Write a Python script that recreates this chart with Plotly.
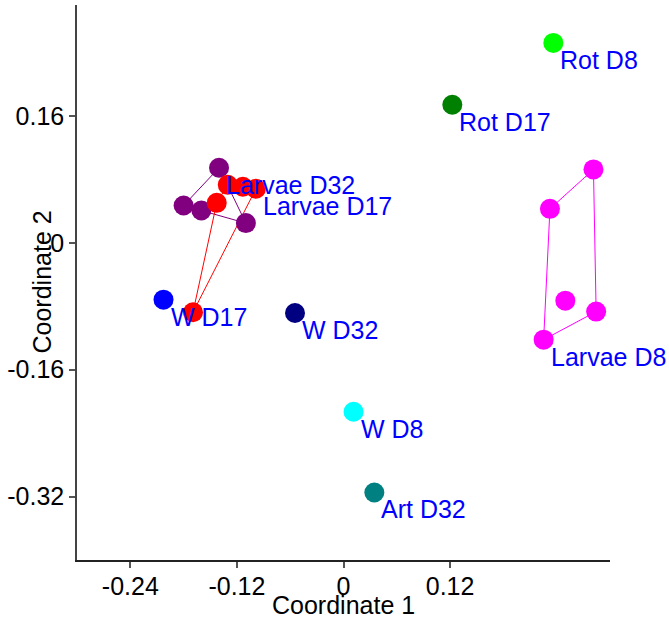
import plotly.graph_objects as go

# Ordination coordinates (Coordinate 1, Coordinate 2) for each sample group
groups = ["Rot D8", "Rot D17", "W D8", "Art D32", "W D32", "W D17",
          "Larvae D32", "Larvae D17", "Larvae D8"]
colors = ["#00FF00", "#008000", "#00FFFF", "#008080", "#000080", "#0000FF",
          "#800080", "#FF0000", "#FF00FF"]

rot_d8_x = [0.2362]
rot_d8_y = [0.2522]
rot_d17_x = [0.1225]
rot_d17_y = [0.1742]
w_d8_x = [0.0113]
w_d8_y = [-0.2130]
art_d32_x = [0.0347]
art_d32_y = [-0.3148]
w_d32_x = [-0.0546]
w_d32_y = [-0.0884]
w_d17_x = [-0.2026]
w_d17_y = [-0.0716]
larvae_d32_x = [-0.1401, -0.1800, -0.1600, -0.1099]
larvae_d32_y = [0.0947, 0.0471, 0.0408, 0.0249]
larvae_d17_x = [-0.1303, -0.1133, -0.0986, -0.1427, -0.1694]
larvae_d17_y = [0.0732, 0.0707, 0.0682, 0.0505, -0.0875]
larvae_d8_x = [0.2814, 0.2324, 0.2497, 0.2844, 0.2253]
larvae_d8_y = [0.0926, 0.0429, -0.0729, -0.0867, -0.1221]

xs = [rot_d8_x, rot_d17_x, w_d8_x, art_d32_x, w_d32_x, w_d17_x,
      larvae_d32_x, larvae_d17_x, larvae_d8_x]
ys = [rot_d8_y, rot_d17_y, w_d8_y, art_d32_y, w_d32_y, w_d17_y,
      larvae_d32_y, larvae_d17_y, larvae_d8_y]
# which sample of each group carries the group label
label_index = [0, 0, 0, 0, 0, 0, 0, 2, 4]

x_ticks = [-0.24, -0.12, 0, 0.12]
x_tick_text = ["-0.24", "-0.12", "0", "0.12"]
y_ticks = [0.16, 0, -0.16, -0.32]
y_tick_text = ["0.16", "0", "-0.16", "-0.32"]
x_title = "Coordinate 1"
y_title = "Coordinate 2"


def convex_hull(px, py):
    pts = sorted(set(zip(px, py)))
    if len(pts) < 3:
        return pts

    def cross(o, a, b):
        return (a[0] - o[0]) * (b[1] - o[1]) - (a[1] - o[1]) * (b[0] - o[0])

    lower, upper = [], []
    for p in pts:
        while len(lower) >= 2 and cross(lower[-2], lower[-1], p) <= 0:
            lower.pop()
        lower.append(p)
    for p in reversed(pts):
        while len(upper) >= 2 and cross(upper[-2], upper[-1], p) <= 0:
            upper.pop()
        upper.append(p)
    return lower[:-1] + upper[:-1]


fig = go.Figure()

# convex hulls around replicated groups
for gx, gy, col in zip(xs, ys, colors):
    if len(gx) >= 3:
        hull = convex_hull(gx, gy)
        hull.append(hull[0])
        fig.add_trace(go.Scatter(
            x=[p[0] for p in hull], y=[p[1] for p in hull],
            mode="lines", line=dict(color=col, width=1),
            hoverinfo="skip", showlegend=False))

# sample points
for name, gx, gy, col in zip(groups, xs, ys, colors):
    fig.add_trace(go.Scatter(
        x=gx, y=gy, mode="markers", name=name,
        marker=dict(color=col, size=20, line=dict(width=0)),
        showlegend=False))

label_font = dict(family="Liberation Sans, Arial, sans-serif", size=25,
                  color="#0000FF")

# group labels
for name, gx, gy, idx in zip(groups, xs, ys, label_index):
    fig.add_annotation(
        x=gx[idx], y=gy[idx], text=name, showarrow=False,
        xanchor="left", yanchor="middle", xshift=5, yshift=-17,
        font=label_font)

axis_font = dict(family="Liberation Sans, Arial, sans-serif", size=25,
                 color="#000000")

# axis titles sit close to the tick labels
fig.add_annotation(
    x=0.5, y=0, xref="paper", yref="paper", text=x_title, showarrow=False,
    xanchor="center", yanchor="middle", yshift=-45, font=axis_font)
fig.add_annotation(
    x=0, y=0.5, xref="paper", yref="paper", text=y_title, showarrow=False,
    textangle=-90, xanchor="center", yanchor="middle", xshift=-36,
    font=axis_font)

fig.update_layout(
    width=669, height=617,
    margin=dict(l=77, r=59, t=5, b=57),
    paper_bgcolor="white", plot_bgcolor="white",
    font=axis_font,
    xaxis=dict(
        range=[-0.3, 0.3], tickvals=x_ticks, ticktext=x_tick_text,
        automargin=False,
        showgrid=False, zeroline=False, showline=True,
        linecolor="#222222", linewidth=1.5,
        ticks="outside", ticklen=6, tickwidth=1.5, tickcolor="#555555",
        tickfont=axis_font, ticklabelstandoff=-3),
    yaxis=dict(
        range=[-0.4, 0.3], tickvals=y_ticks, ticktext=y_tick_text,
        automargin=False,
        showgrid=False, zeroline=False, showline=True,
        linecolor="#444444", linewidth=1.5,
        ticks="outside", ticklen=6, tickwidth=1.5, tickcolor="#555555",
        tickfont=axis_font),
)

fig.write_html("out.html")
